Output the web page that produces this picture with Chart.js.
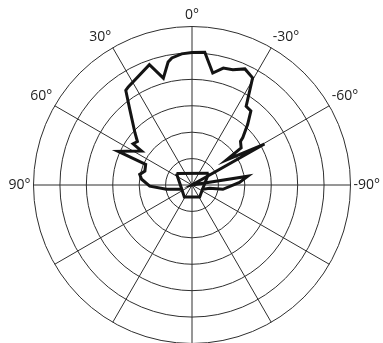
<!DOCTYPE html>
<html>
<head>
<meta charset="utf-8">
<script src="https://cdn.jsdelivr.net/npm/chart.js@4.4.0/dist/chart.umd.min.js"></script>
<style>
  html, body { margin: 0; padding: 0; background: #fff; overflow: hidden; }
  #wrap { position: absolute; left: 0; top: 0; width: 383px; height: 376px; }
</style>
</head>
<body>
<div id="wrap"><canvas id="polarChart"></canvas></div>
<script>
// pattern angle in degrees (positive = left of 0°, as labelled), radius in ring units
const mainAngles = [0, -5.4, -10.3, -14.8, -19.5, -24.3, -29.6, -34.5, -38.7, -42.7,
  -47.1, -48, -52.9, -54, -60.4, -70, -80.9, -87.2, -98, -100.7, -112.1, -147.4,
  147.4, 112.8, 99.6, 91.4, 83.6, 78.5, 73.5, 66, 65.3, 56, 55, 51.3, 47.6, 39.5,
  34.9, 33.1, 19.3, 15.1, 10.9, 9.2, 4.6];
const mainRadii = [5.02, 5.05, 4.31, 4.58, 4.63, 4.83, 4.66, 3.62, 3.58, 3.12,
  2.63, 2.47, 2.33, 1.62, 3.15, 0, 2.14, 1.80, 1.18, 0.68, 0.43, 0.54,
  0.54, 0.42, 0.98, 1.60, 1.92, 2.02, 1.86, 1.92, 3.07, 2.30, 2.72, 2.64, 2.93, 3.70,
  4.37, 4.43, 4.83, 4.19, 4.74, 4.87, 4.98];

// open polyline around the centre (top of the small trapezoid)
const innerAngles = [112.8, 53.7, -55, -112.1];
const innerRadii = [0.42, 0.73, 0.77, 0.43];

// one label per 30° spoke, clockwise from the top
const spokeLabels = ['0°', '-30°', '-60°', '-90°', '', '', '', '', '', '90°', '60°', '30°'];
const rMax = 6;

const STEP = 0.5;
const N = 360 / STEP;
const PER_SPOKE = 30 / STEP;
const slots = Array.from({ length: N }, (_, i) => i * STEP);

function toIndex(a) {
  return Math.round(((((-a) % 360) + 360) % 360) / STEP) % N;
}

function buildSeries(angles, radii) {
  const arr = new Array(N).fill(null);
  angles.forEach((a, k) => { arr[toIndex(a)] = radii[k]; });
  return arr;
}

const lineStyle = {
  borderColor: '#141414',
  borderWidth: 3,
  pointRadius: 0,
  pointHoverRadius: 0,
  fill: false,
  spanGaps: true,
  tension: 0
};

const datasets = [Object.assign({ data: buildSeries(mainAngles, mainRadii) }, lineStyle)];
for (let k = 0; k < innerAngles.length - 1; k++) {
  datasets.push(Object.assign({
    data: buildSeries(innerAngles.slice(k, k + 2), innerRadii.slice(k, k + 2))
  }, lineStyle));
}

const ctx = document.getElementById('polarChart').getContext('2d');
const chart = new Chart(ctx, {
  type: 'radar',
  data: { labels: slots, datasets: datasets },
  options: {
    responsive: true,
    maintainAspectRatio: false,
    animation: false,
    layout: { padding: { left: 7, right: 0, top: 0, bottom: 0 } },
    plugins: { legend: { display: false }, tooltip: { enabled: false } },
    elements: { line: { borderJoinStyle: 'miter', borderCapStyle: 'butt' } },
    scales: {
      r: {
        min: 0,
        max: rMax,
        ticks: { display: false, stepSize: 1 },
        grid: { circular: true, color: '#2e2e2e', lineWidth: 1 },
        angleLines: {
          color: '#2e2e2e',
          lineWidth: (c) => (c.index % PER_SPOKE === 0 ? 1 : 0)
        },
        pointLabels: {
          callback: (v, i) => {
            if (i % PER_SPOKE === 0 && spokeLabels[i / PER_SPOKE]) return spokeLabels[i / PER_SPOKE];
            return i === N / 2 ? [''] : [];
          },
          padding: (c) => (c.index === N / 2 ? 7 : (c.index % PER_SPOKE === 0 ? 3 : 0)),
          font: { family: 'Open Sans', size: 14 },
          color: '#1e1e1e'
        }
      }
    }
  }
});
</script>
</body>
</html>
